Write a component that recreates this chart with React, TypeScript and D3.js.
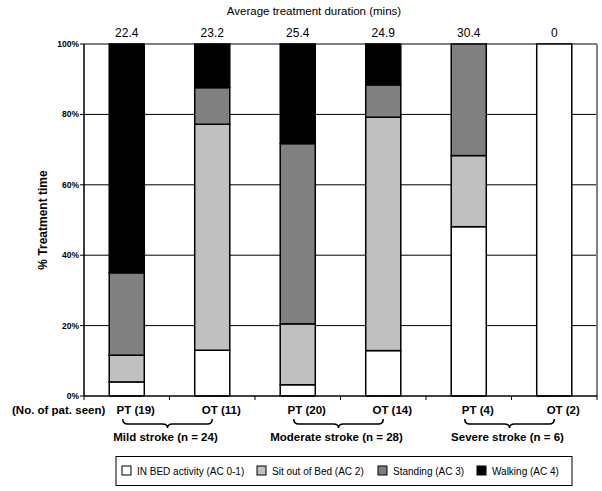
import React from "react";
import * as d3 from "d3";

const categories = ["PT (19)", "OT (11)", "PT (20)", "OT (14)", "PT (4)", "OT (2)"];
const durations = ["22.4", "23.2", "25.4", "24.9", "30.4", "0"];
const inBed = [4, 13, 3.2, 12.9, 48.1, 100];
const sitOut = [7.6, 64.2, 17.3, 66.3, 20.2, 0];
const standing = [23.4, 10.4, 51.2, 9.2, 31.7, 0];
const walking = [65, 12.4, 28.3, 11.6, 0, 0];
const seriesNames = ["IN BED activity (AC 0-1)", "Sit out of Bed (AC 2)", "Standing (AC 3)", "Walking (AC 4)"];
const seriesKeys = ["inBed", "sitOut", "standing", "walking"];
const groups = ["Mild stroke (n = 24)", "Moderate stroke (n = 28)", "Severe stroke (n = 6)"];
const yTicks = [0, 20, 40, 60, 80, 100];

const W = 602;
const H = 491;
const M = { left: 84, right: 597, top: 44, bottom: 396 };
const FONT = "'Liberation Sans', Arial, sans-serif";
const colors = ["#ffffff", "#c0c0c0", "#808080", "#000000"];

export default function App() {
  const x = d3.scaleBand<string>().domain(categories).range([M.left, M.right]).paddingInner(0.59).paddingOuter(0.295);
  const y = d3.scaleLinear().domain([0, 100]).range([M.bottom, M.top]);
  const color = d3.scaleOrdinal<string, string>().domain(seriesKeys).range(colors);

  const rows = categories.map((c, i) => ({
    cat: c,
    inBed: inBed[i],
    sitOut: sitOut[i],
    standing: standing[i],
    walking: walking[i],
  }));
  const stacked = d3.stack<any>().keys(seriesKeys)(rows);
  const bw = x.bandwidth();
  const cx = (c: string) => (x(c) as number) + bw / 2;
  const step = x.step();
  const boundaries = d3.range(categories.length + 1).map((i) => M.left + i * step);

  const brace = (x1: number, x2: number) => {
    const y0 = 419, y1 = 424, y2 = 428;
    const xm = (x1 + x2) / 2;
    return `M${x1},${y0} Q${x1},${y1} ${x1 + 5},${y1} L${xm - 5},${y1} Q${xm},${y1} ${xm},${y2} Q${xm},${y1} ${xm + 5},${y1} L${x2 - 5},${y1} Q${x2},${y1} ${x2},${y0}`;
  };

  const legendX = [122, 257, 378, 477];

  return (
    <svg width={W} height={H} style={{ position: "absolute", left: 0, top: 0, background: "#fff" }} fontFamily={FONT}>
      <rect x={0} y={0} width={W} height={H} fill="#fff" />
      <text x={314} y={14.5} textAnchor="middle" fontSize={11.5}>Average treatment duration (mins)</text>
      {categories.map((c, i) => (
        <text key={c} x={cx(c)} y={37} textAnchor="middle" fontSize={12}>{durations[i]}</text>
      ))}
      {yTicks.filter((t) => t > 0 && t < 100).map((t) => (
        <line key={t} x1={M.left} x2={M.right} y1={y(t)} y2={y(t)} stroke="#000" strokeWidth={1} />
      ))}
      <line x1={M.left} x2={M.right} y1={y(100)} y2={y(100)} stroke="#808080" strokeWidth={2} />
      <line x1={M.right} x2={M.right} y1={M.top} y2={M.bottom} stroke="#808080" strokeWidth={2} />
      {stacked.map((s) => (
        <g key={s.key}>
          {s.map((d, i) =>
            d[1] - d[0] > 0 ? (
              <rect
                key={i}
                x={x(categories[i])}
                y={y(d[1])}
                width={bw}
                height={y(d[0]) - y(d[1])}
                fill={color(s.key)}
                stroke="#000"
                strokeWidth={1.5}
              />
            ) : null
          )}
        </g>
      ))}
      <line x1={M.left} x2={M.left} y1={M.top} y2={M.bottom} stroke="#000" strokeWidth={1.5} />
      <line x1={M.left} x2={M.right} y1={M.bottom} y2={M.bottom} stroke="#000" strokeWidth={1.5} />
      {yTicks.map((t) => (
        <g key={t}>
          <line x1={M.left - 4} x2={M.left} y1={y(t)} y2={y(t)} stroke="#000" />
          <text x={M.left - 5} y={y(t) + 3} textAnchor="end" fontSize={8.5} fontWeight="bold">{t}%</text>
        </g>
      ))}
      {boundaries.map((b, i) => (
        <line key={i} x1={b} x2={b} y1={M.bottom} y2={M.bottom + 4} stroke="#000" />
      ))}
      <text transform={`translate(47,${(M.top + M.bottom) / 2}) rotate(-90)`} textAnchor="middle" fontSize={12} fontWeight="bold">
        {"% Treatment  time"}
      </text>
      <text x={12} y={414} fontSize={11.5} fontWeight="bold">(No. of pat. seen)</text>
      {categories.map((c) => (
        <text key={c} x={cx(c) + 9} y={414} textAnchor="middle" fontSize={11.5} fontWeight="bold">{c}</text>
      ))}
      {groups.map((g, gi) => {
        const a = cx(categories[gi * 2]);
        const b = cx(categories[gi * 2 + 1]);
        return (
          <g key={g}>
            <path d={brace(a - 4, b)} fill="none" stroke="#000" strokeWidth={1.5} />
            <text x={(a + b) / 2 - 4} y={441} textAnchor="middle" fontSize={11.5} fontWeight="bold">{g}</text>
          </g>
        );
      })}
      <rect x={116} y={456.5} width={456} height={29} fill="#fff" stroke="#000" strokeWidth={1} />
      {seriesNames.map((n, i) => (
        <g key={n}>
          <rect x={legendX[i]} y={466} width={9} height={9} fill={colors[i]} stroke="#000" strokeWidth={1} />
          <text x={legendX[i] + 15} y={474.5} fontSize={10}>{n}</text>
        </g>
      ))}
    </svg>
  );
}
